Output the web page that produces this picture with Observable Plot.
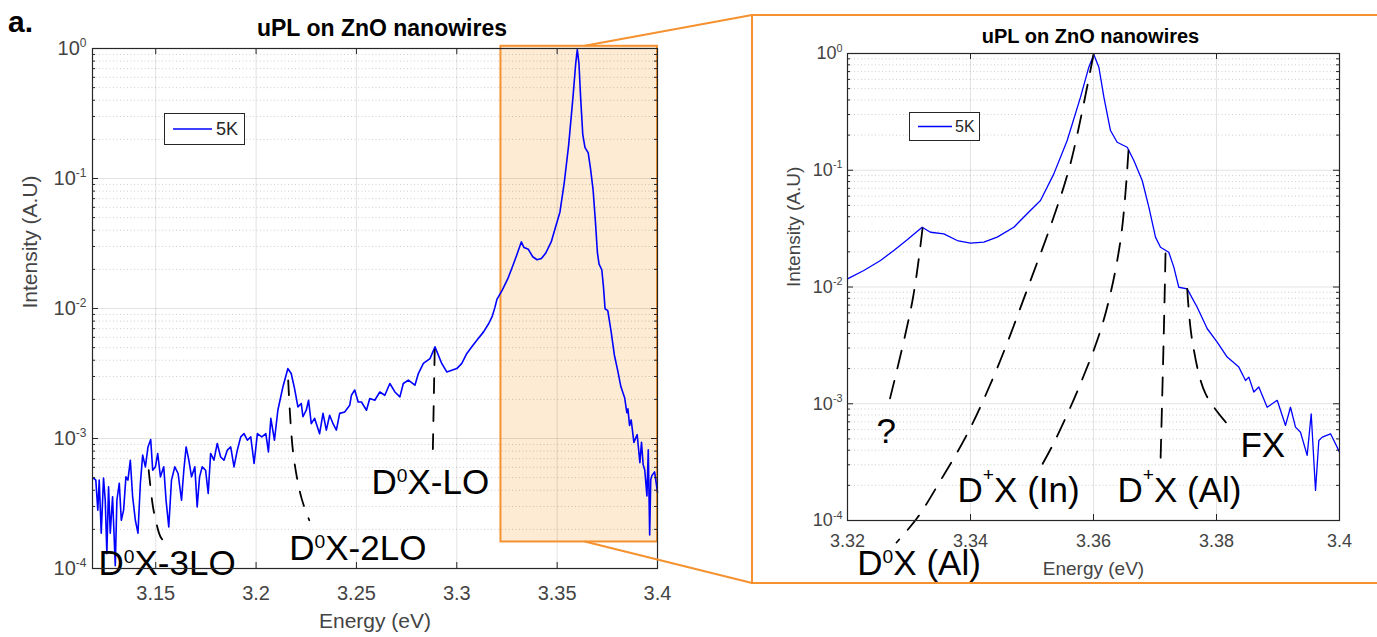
<!DOCTYPE html>
<html><head><meta charset="utf-8">
<script src="https://cdn.jsdelivr.net/npm/d3@7"></script>
<script src="https://cdn.jsdelivr.net/npm/@observablehq/plot@0.6"></script>
<style>
html,body{margin:0;padding:0;background:#fff;}
#wrap{position:relative;width:1377px;height:637px;overflow:hidden;font-family:"Liberation Sans",Arial,Helvetica,sans-serif;}
</style></head><body><div id="wrap"></div>
<script>
// ---------------- data ----------------
const seriesName = "5K";
const titleText = "uPL on ZnO nanowires";
const xLabel = "Energy (eV)";
const yLabel = "Intensity (A.U)";
const panelTag = "a.";

// spectrum, low-energy part
const energyLow = [3.119,3.12015,3.12115,3.12185,3.12285,3.124,3.12485,3.12565,3.1265,3.12735,3.1285,3.12985,3.13065,3.13185,3.13285,3.134,3.13515,3.13615,3.13735,3.1385,3.13985,3.14115,3.14235,3.1435,3.14485,3.14615,3.1475,3.1485,3.14985,3.151,3.15235,3.154,3.15515,3.1565,3.15785,3.1595,3.16115,3.16285,3.164,3.16515,3.1665,3.16785,3.1695,3.17065,3.17185,3.17315,3.17485,3.17615,3.17735,3.179,3.18065,3.18235,3.184,3.18565,3.18735,3.189,3.19065,3.19235,3.194,3.19565,3.19735,3.199,3.20065,3.20285,3.20485,3.20615,3.20735,3.20915,3.21085,3.21335,3.21585,3.2175,3.21915,3.22085,3.2225,
  3.22335,3.225,3.22615,3.2275,3.22915,3.23165,3.23335,3.235,3.23665,3.23835,3.24,3.24165,3.24415,3.24665,3.2475,3.24915,3.25085,3.2525,3.255,3.25665,3.25915,3.26165,3.26415,3.26665,3.26915,3.27165,3.27335,3.27585,3.27915,3.28085,3.28335,3.28665,3.28915,3.2925,3.295,3.2975,3.3,3.3025,3.305,3.3075,3.31,3.31335,3.316,3.3177,3.319];
const intensityLow = [4.96e-4,4.78e-4,2.81e-4,4.78e-4,1.87e-4,4.96e-4,3.35e-4,1.3e-4,4.25e-4,1.87e-4,3.56e-4,1.05e-4,3.35e-4,4.53e-4,2.35e-4,2.81e-4,5.07e-4,4.78e-4,6.81e-4,3.56e-4,2.35e-4,1.87e-4,4.53e-4,7.45e-4,6.05e-4,8.61e-4,9.82e-4,5.70e-4,6.05e-4,7.67e-4,5.07e-4,6.05e-4,3.35e-4,2.09e-4,4.78e-4,6.05e-4,5.38e-4,3.35e-4,5.70e-4,8.61e-4,6.81e-4,5.07e-4,6.05e-4,2.98e-4,5.07e-4,6.05e-4,5.70e-4,3.78e-4,7.67e-4,6.81e-4,9.16e-4,7.21e-4,6.81e-4,8.13e-4,8.61e-4,6.05e-4,8.13e-4,1.03e-3,1.09e-3,9.70e-4,1.03e-3,6.42e-4,1.09e-3,1.03e-3,1.09e-3,7.89e-4,1.43e-3,9.70e-4,1.65e-3,2.49e-3,3.45e-3,3.16e-3,2.43e-3,1.75e-3,1.86e-3,
  1.47e-3,1.65e-3,1.97e-3,1.30e-3,1.43e-3,1.09e-3,1.56e-3,1.16e-3,1.51e-3,1.30e-3,1.16e-3,1.56e-3,1.60e-3,1.80e-3,2.15e-3,2.36e-3,1.91e-3,1.91e-3,1.65e-3,2.03e-3,1.97e-3,2.28e-3,2.15e-3,2.65e-3,2.28e-3,2.09e-3,2.65e-3,2.81e-3,2.57e-3,3.16e-3,3.78e-3,4.12e-3,5.07e-3,3.78e-3,3.25e-3,3.35e-3,3.45e-3,3.78e-3,4.51e-3,5.07e-3,5.70e-3,6.61e-3,7.7e-3,8.75e-3,1.02e-2];

// spectrum, band-edge part
const energyHigh = [3.32,3.32265,3.32537,3.32753,3.32971,3.33214,3.3335,3.33566,3.33784,3.34,3.34216,3.34434,3.34704,3.34921,3.35138,3.35355,3.35572,3.35789,3.35924,3.36005,3.36087,3.36169,3.36276,3.36385,3.36548,3.36656,3.36792,3.369,3.37008,3.37089,3.37224,3.37306,3.37387,3.37523,3.37686,3.3785,3.38011,3.38174,3.38363,3.38472,3.38526,3.38607,3.38688,3.38824,3.38987,3.39122,3.39203,3.39285,3.39366,3.39474,3.3954,3.3961,3.39664,3.3972,3.39854,3.39935,3.4];
const intensityHigh = [0.01175,0.01384,0.01687,0.02056,0.02535,0.03251,0.02944,0.02851,0.0250,0.02371,0.02421,0.02673,0.03251,0.04236,0.05508,0.09311,0.1799,0.4227,0.7638,0.98,0.7638,0.4227,0.2188,0.1738,0.1574,0.1211,0.08166,0.04831,0.02673,0.02193,0.01986,0.01479,9.95e-3,9.64e-3,6.71e-3,4.39e-3,3.37e-3,2.51e-3,2.06e-3,1.58e-3,1.69e-3,1.26e-3,1.39e-3,9.33e-4,1.07e-3,6.52e-4,9.33e-4,6.31e-4,5.70e-4,3.61e-4,8.20e-4,1.81e-4,4.84e-4,5.18e-4,5.53e-4,4.54e-4,3.85e-4];

// axes
const xDomainLeft = [3.1185, 3.4];
const xDomainRight = [3.32, 3.4];
const yDomain = [1e-4, 1];
const xTicksLeft = [3.15, 3.2, 3.25, 3.3, 3.35, 3.4];
const xTickLabelsLeft = ["3.15", "3.2", "3.25", "3.3", "3.35", "3.4"];
const xTicksRight = [3.32, 3.34, 3.36, 3.38, 3.4];
const xTickLabelsRight = ["3.32", "3.34", "3.36", "3.38", "3.4"];
const yTicks = [1e-4, 1e-3, 1e-2, 1e-1, 1];
const yTickLabels = ["10{-4}", "10{-3}", "10{-2}", "10{-1}", "10{0}"];

// zoom window drawn on the left panel
const zoomEnergy = [3.322, 3.4];
const zoomIntensity = [1.6e-4, 1.04];
const zoomLinkEnergy = 3.364;

// dashed guides, left panel [energy, intensity]
const guide3LO = [[3.1465,5.7e-4],[3.1485,3.07e-4],[3.15,2.35e-4],[3.1525,1.74e-4],[3.156,1.51e-4]];
const guide2LO = [[3.216,2.8e-3],[3.2185,7.7e-4],[3.2225,3.54e-4],[3.2265,2.35e-4]];
const guideLO = [[3.289,4.79e-3],[3.288,7.06e-4]];
const leftLabels = ["D{0}X-3LO", "D{0}X-2LO", "D{0}X-LO"];
const leftLabelEnergy = [3.1215, 3.2165, 3.2575];
const leftLabelIntensity = [8.87e-5, 1.16e-4, 3.73e-4];

// dashed guides, right panel
const guideQ = [[3.3322,0.0317],[3.33057,7.66e-3],[3.32683,1.066e-3]];
const guideD0Al = [[3.36,0.98],[3.35626,0.1143],[3.35333,0.0371],[3.34976,0.01137],[3.34439,2.05e-3],[3.33951,5.56e-4],[3.33512,2.2e-4],[3.33138,1.06e-4],[3.32797,6.48e-5]];
const guideDpIn = [[3.36569,0.1476],[3.36439,0.025],[3.36163,5.16e-3],[3.35789,1.49e-3],[3.3535,4.57e-4],[3.35138,2.84e-4]];
const guideDpAl = [[3.37171,0.01936],[3.37143,4.0e-3],[3.37089,3.06e-4]];
const guideFX = [[3.37524,9.65e-3],[3.37605,3.48e-3],[3.37821,1.22e-3],[3.38174,6.73e-4]];
const rightLabels = ["?", "D{+}X (In)", "D{+}X (Al)", "FX", "D{0}X (Al)"];
const rightLabelEnergy = [3.3247, 3.3379, 3.3639, 3.3839, 3.3216];
const rightLabelIntensity = [4.57e-4, 1.435e-4, 1.435e-4, 3.53e-4, 3.38e-5];

// ---------------- build ----------------
const NS = "http://www.w3.org/2000/svg";
const FONT = '"Liberation Sans", Arial, Helvetica, sans-serif';
const BLUE = "#0000ff";
const ORANGE = "#f5922f";
const AXIS = "#262626";
const TICKTXT = "#444";

const spectrum = energyLow.map((e, i) => ({e, i: intensityLow[i]}))
  .concat(energyHigh.map((e, i) => ({e, i: intensityHigh[i]})));

const minorY = [];
for (let p = -4; p < 0; p++) for (let m = 2; m <= 9; m++) minorY.push(m * Math.pow(10, p));

const yFmt = d => yTickLabels[yTicks.findIndex(t => Math.abs(Math.log10(t) - Math.log10(d)) < 1e-6)];

function panel(cfg) {
  const W = 1377 - cfg.ml - cfg.mr, H = 637 - cfg.mt - cfg.mb;
  const xFmt = d => cfg.xLabels[cfg.xTicks.findIndex(t => Math.abs(t - d) < 1e-9)];
  const guideMarks = cfg.guides.map(g => Plot.line(g, {x: d => d[0], y: d => d[1], stroke: "#000", strokeWidth: cfg.guideWidth, strokeDasharray: cfg.dash, curve: "catmull-rom"}));
  return Plot.plot({
    width: 1377, height: 637,
    marginLeft: cfg.ml, marginRight: cfg.mr, marginTop: cfg.mt, marginBottom: cfg.mb,
    x: {domain: cfg.xDomain},
    y: {type: "log", domain: yDomain},
    style: {fontFamily: FONT, background: "transparent", overflow: "visible", position: "absolute", left: "0px", top: "0px", maxWidth: "none"},
    marks: [
      ...(cfg.zoomBox ? [Plot.rect([0], {x1: () => zoomEnergy[0], x2: () => zoomEnergy[1], y1: () => zoomIntensity[0], y2: () => zoomIntensity[1], fill: "#fdebd3"})] : []),
      Plot.ruleY(minorY, {stroke: AXIS, strokeOpacity: 0.22, strokeDasharray: "1,2.5"}),
      Plot.ruleY(yTicks, {stroke: AXIS, strokeOpacity: 0.13}),
      Plot.ruleX(cfg.xTicks, {stroke: AXIS, strokeOpacity: 0.13}),
      ...(cfg.zoomBox ? [Plot.rect([0], {x1: () => zoomEnergy[0], x2: () => zoomEnergy[1], y1: () => zoomIntensity[0], y2: () => zoomIntensity[1], fill: "none", stroke: ORANGE, strokeWidth: 2})] : []),
      Plot.line(spectrum.filter(d => d.e >= cfg.xDomain[0] && d.e <= cfg.xDomain[1]), {x: "e", y: "i", stroke: BLUE, strokeWidth: cfg.lineWidth}),
      ...guideMarks,
      Plot.text(cfg.labels, {x: (d, i) => cfg.labelE[i], y: (d, i) => cfg.labelI[i], text: d => d, textAnchor: "start", lineAnchor: "bottom", fontSize: 35, fill: "#000"}),
      // inner ticks (MATLAB box style)
      Plot.tickX(cfg.xTicks, {stroke: AXIS, insetTop: H - 6}),
      Plot.tickX(cfg.xTicks, {stroke: AXIS, insetBottom: H - 6}),
      Plot.tickY(yTicks, {stroke: AXIS, insetRight: W - 6}),
      Plot.tickY(yTicks, {stroke: AXIS, insetLeft: W - 6}),
      Plot.tickY(minorY, {stroke: AXIS, insetRight: W - 3}),
      Plot.tickY(minorY, {stroke: AXIS, insetLeft: W - 3}),
      Plot.axisX(cfg.xTicks, {anchor: "bottom", tickSize: 0, tickPadding: cfg.xPad, tickFormat: xFmt, fontSize: cfg.tickFont, color: TICKTXT, label: null}),
      Plot.axisY(yTicks, {anchor: "left", tickSize: 0, tickPadding: cfg.yPad, tickFormat: yFmt, fontSize: cfg.tickFont, color: TICKTXT, label: null}),
      Plot.frame({stroke: AXIS, strokeWidth: 1.2}),
      Plot.text([titleText], {frameAnchor: "top", lineAnchor: "middle", dy: cfg.titleDy, dx: cfg.titleDx, fontWeight: "bold", fontSize: cfg.titleFont, fill: "#000"}),
      Plot.text([xLabel], {frameAnchor: "bottom", lineAnchor: "middle", dy: cfg.xLabelDy, fontSize: cfg.labelFont, fill: TICKTXT}),
      Plot.text([yLabel], {frameAnchor: "left", lineAnchor: "middle", rotate: -90, dx: cfg.yLabelDx, fontSize: cfg.labelFont, fill: TICKTXT})
    ]
  });
}

const leftPlot = panel({
  ml: 92, mr: 720, mt: 48, mb: 69,
  xDomain: xDomainLeft, xTicks: xTicksLeft, xLabels: xTickLabelsLeft,
  zoomBox: true, lineWidth: 1.6, guideWidth: 1.8, dash: "15,13",
  guides: [guide3LO, guide2LO, guideLO],
  labels: leftLabels, labelE: leftLabelEnergy, labelI: leftLabelIntensity,
  tickFont: 20, xPad: 17, yPad: 6, titleFont: 23, titleDy: -20, titleDx: 7,
  labelFont: 21, xLabelDy: 53, yLabelDx: -62
});

const rightPlot = panel({
  ml: 847, mr: 38, mt: 53, mb: 117,
  xDomain: xDomainRight, xTicks: xTicksRight, xLabels: xTickLabelsRight,
  zoomBox: false, lineWidth: 1.3, guideWidth: 1.8, dash: "18,13",
  guides: [guideQ, guideD0Al, guideDpIn, guideDpAl, guideFX],
  labels: rightLabels, labelE: rightLabelEnergy, labelI: rightLabelIntensity,
  tickFont: 18, xPad: 14, yPad: 5, titleFont: 20, titleDy: -17, titleDx: -3,
  labelFont: 19, xLabelDy: 48, yLabelDx: -54
});

const wrap = document.getElementById("wrap");
wrap.appendChild(leftPlot);
wrap.appendChild(rightPlot);

function supify(svg) {
  svg.querySelectorAll("text").forEach(t => {
    const s = t.textContent;
    if (!/\{[^}]*\}/.test(s) || t.querySelector("tspan")) return;
    const fs = parseFloat(getComputedStyle(t).fontSize) || 16;
    const isTick = /^10\{/.test(s);
    t.textContent = "";
    let shift = 0;
    s.split(/(\{[^}]*\})/).forEach(p => {
      if (!p) return;
      const ts = document.createElementNS(NS, "tspan");
      if (p[0] === "{") {
        const body = p.slice(1, -1);
        const sc = isTick ? 0.6 : 0.55;
        shift = isTick ? 0.42 * fs : (body === "+" ? 0.6 * fs : 0.36 * fs);
        ts.textContent = body;
        ts.setAttribute("font-size", (fs * sc).toFixed(2));
        ts.setAttribute("dy", (-shift).toFixed(2));
      } else {
        ts.textContent = p;
        if (shift) { ts.setAttribute("dy", shift.toFixed(2)); shift = 0; }
      }
      t.appendChild(ts);
    });
  });
}
supify(leftPlot);
supify(rightPlot);

// overlay: inset frame, connecting lines, legends, panel tag
const sx = leftPlot.scale("x"), sy = leftPlot.scale("y");
const lx = sx.apply(zoomLinkEnergy);
const ov = d3.create("svg").attr("width", 1377).attr("height", 637)
  .style("position", "absolute").style("left", "0px").style("top", "0px")
  .style("font-family", FONT);
ov.append("rect").attr("x", 752).attr("y", 15).attr("width", 640).attr("height", 568)
  .attr("fill", "none").attr("stroke", ORANGE).attr("stroke-width", 2);
ov.append("line").attr("x1", lx).attr("y1", sy.apply(zoomIntensity[1])).attr("x2", 752).attr("y2", 15)
  .attr("stroke", ORANGE).attr("stroke-width", 2);
ov.append("line").attr("x1", lx).attr("y1", sy.apply(zoomIntensity[0])).attr("x2", 752).attr("y2", 583)
  .attr("stroke", ORANGE).attr("stroke-width", 2);

function legend(x, y, w, h, l1, l2, tx, fs) {
  ov.append("rect").attr("x", x).attr("y", y).attr("width", w).attr("height", h)
    .attr("fill", "#fff").attr("stroke", AXIS).attr("stroke-width", 1);
  ov.append("line").attr("x1", l1).attr("x2", l2).attr("y1", y + h / 2).attr("y2", y + h / 2)
    .attr("stroke", BLUE).attr("stroke-width", 1.6);
  ov.append("text").attr("x", tx).attr("y", y + h / 2).attr("dy", "0.35em")
    .attr("font-size", fs).attr("fill", AXIS).text(seriesName);
}
legend(164.5, 113.5, 80, 31, 173, 212, 216, 18);
legend(909.5, 112.5, 70, 28, 918, 952, 955, 16);

ov.append("text").attr("x", 8).attr("y", 32).attr("font-size", 30).attr("font-weight", "bold")
  .attr("fill", "#000").text(panelTag);
wrap.appendChild(ov.node());
</script></body></html>
